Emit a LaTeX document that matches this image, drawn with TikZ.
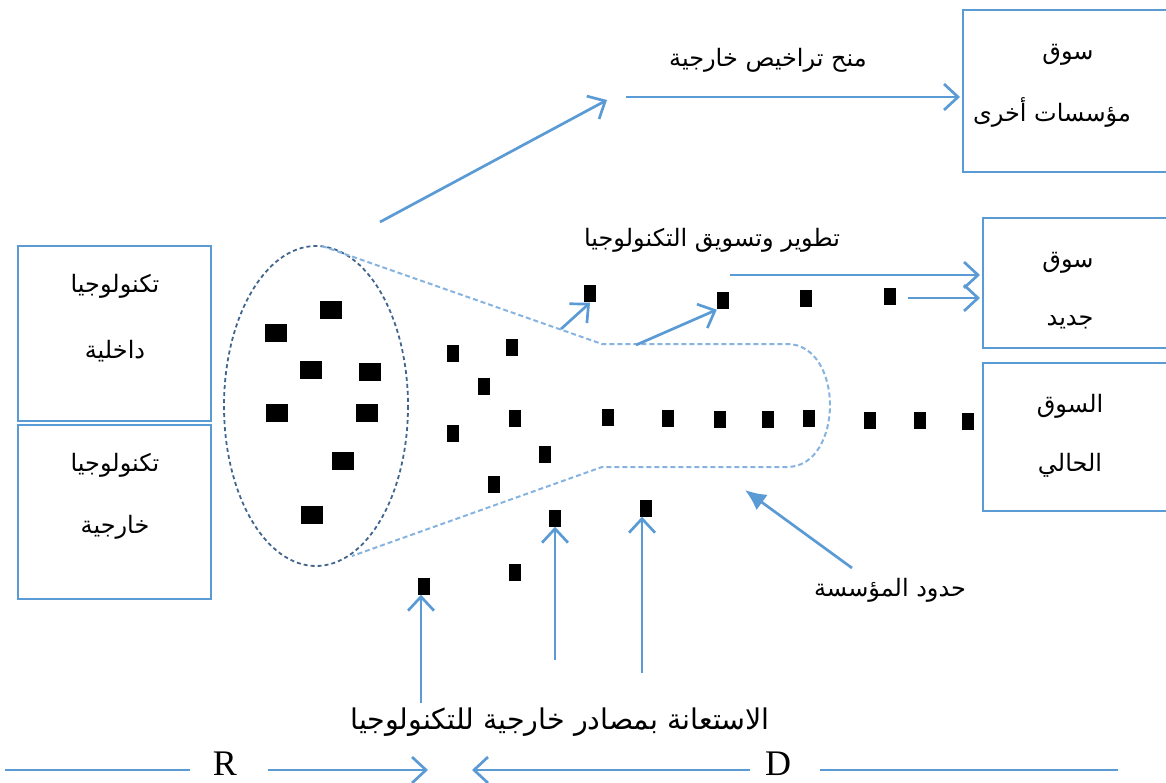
\documentclass[tikz,border=0pt]{standalone}
\usepackage{fontspec}
\usetikzlibrary{arrows.meta}
\TeXXeTstate=1
\newfontfamily\arabicfont[Script=Arabic]{DejaVu Sans}
\setmainfont{Liberation Serif}
\definecolor{lineblue}{HTML}{5B9BD5}
\definecolor{rimblue}{HTML}{41658C}
\definecolor{funnelblue}{HTML}{86B3E0}
\newcommand{\ar}[1]{{\arabicfont\beginR #1\endR}}
\tikzset{
  box/.style={draw=lineblue, line width=2pt},
  txt/.style={font=\arabicfont\fontsize{24}{28}\selectfont, inner sep=0pt},
  flow/.style={draw=lineblue, line width=2.7pt, -{Straight Barb[length=14pt,width=26pt,line width=2.7pt]}},
  plain/.style={draw=lineblue, line width=2.7pt},
  pointer/.style={draw=lineblue, line width=2.7pt, -{Latex[length=21pt,width=19pt]}},
  big/.style={fill=black, minimum width=22pt, minimum height=18pt, inner sep=0pt},
  small/.style={fill=black, minimum width=12pt, minimum height=17pt, inner sep=0pt},
  letter/.style={font=\fontsize{36}{40}\selectfont, inner sep=0pt}
}
\begin{document}
\begin{tikzpicture}[x=1pt,y=-1pt]
\useasboundingbox (0,0) rectangle (1166,783);
\clip (0,0) rectangle (1166,783);

% boxes
\draw[box] (18,246) rectangle (211,421);
\draw[box] (18,425) rectangle (211,599);
\draw[box] (963,10) rectangle (1180,172);
\draw[box] (983,218) rectangle (1180,348);
\draw[box] (983,363) rectangle (1180,511);

\node[txt] (intA) at (115,286) {\ar{تكنولوجيا}};
\node[txt] (intB) at (115,351) {\ar{داخلية}};
\node[txt] (extA) at (115,465) {\ar{تكنولوجيا}};
\node[txt] (extB) at (115,527) {\ar{خارجية}};

\node[txt] (othA) at (1068,55) {\ar{سوق}};
\node[txt] (othB) at (1052,112) {\ar{مؤسسات أخرى}};
\node[txt] (newA) at (1068,263) {\ar{سوق}};
\node[txt] (newB) at (1070,322) {\ar{جديد}};
\node[txt] (curA) at (1070,406) {\ar{السوق}};
\node[txt] (curB) at (1070,465) {\ar{الحالي}};

% labels
\node[txt] (lic) at (768,60) {\ar{منح تراخيص خارجية}};
\node[txt] (dev) at (712,240) {\ar{تطوير وتسويق التكنولوجيا}};
\node[txt] (lim) at (890,590) {\ar{حدود المؤسسة}};
\node[txt, font=\arabicfont\fontsize{28.5}{31}\selectfont] (out) at (560,722) {\ar{الاستعانة بمصادر خارجية للتكنولوجيا}};

% funnel
\draw[rimblue, line width=1.8pt, dash pattern=on 4pt off 3pt] (316,406) ellipse [x radius=92, y radius=160];
\draw[funnelblue, line width=2pt, dash pattern=on 5pt off 3pt]
  (322,246) -- (602,344) -- (787,344)
  to[out=0,in=90] (830,405) to[out=-90,in=0] (787,467)
  -- (602,467) -- (352,556);

% large squares
\node[big] (b1) at (331,310) {};
\node[big] (b2) at (276,333) {};
\node[big] (b3) at (311,370) {};
\node[big] (b4) at (370,372) {};
\node[big] (b5) at (277,413) {};
\node[big] (b6) at (367,413) {};
\node[big] (b7) at (343,461) {};
\node[big] (b8) at (312,515) {};

% small squares
\node[small] (s1) at (453,353) {};
\node[small] (s2) at (512,347) {};
\node[small] (s3) at (484,386) {};
\node[small] (s4) at (515,418) {};
\node[small] (s5) at (453,433) {};
\node[small] (s6) at (545,454) {};
\node[small] (s7) at (494,484) {};
\node[small] (s8) at (555,518) {};
\node[small] (s9) at (646,508) {};
\node[small] (s10) at (515,572) {};
\node[small] (s11) at (424,586) {};
\node[small] (u1) at (590,294) {};
\node[small] (u2) at (723,301) {};
\node[small] (u3) at (806,299) {};
\node[small] (u4) at (890,297) {};
\node[small] (m1) at (608,417) {};
\node[small] (m2) at (668,418) {};
\node[small] (m3) at (720,419) {};
\node[small] (m4) at (768,419) {};
\node[small] (m5) at (809,418) {};
\node[small] (m6) at (870,420) {};
\node[small] (m7) at (920,420) {};
\node[small] (m8) at (968,421) {};

% connector ends
\coordinate (licFrom) at (380,222);
\coordinate (licTip) at (607,100);
\coordinate (licStart) at (626,97);
\coordinate (othIn) at (960,97);
\coordinate (devStart) at (730,275);
\coordinate (newIn1) at (980,275);
\coordinate (newStart2) at (908,298);
\coordinate (newIn2) at (980,298);
\coordinate (upA) at (561,329);
\coordinate (upB) at (636,345);
\coordinate (limFrom) at (852,568);
\coordinate (limTip) at (745,490);
\coordinate (inA) at (421,703);
\coordinate (inB) at (555,660);
\coordinate (inC) at (642,673);
\coordinate (rL) at (5,770);
\coordinate (rR) at (190,770);
\coordinate (rArrS) at (268,770);
\coordinate (rArrE) at (428,770);
\coordinate (dArrS) at (750,770);
\coordinate (dArrE) at (472,770);
\coordinate (dL) at (820,770);
\coordinate (dR) at (1118,770);

% arrows
\draw[flow] (licFrom) -- (licTip);
\draw[flow] (licStart) -- (othIn);
\draw[flow] (devStart) -- (newIn1);
\draw[flow] (newStart2) -- (newIn2);
\draw[flow] (upA) -- (u1.south);
\draw[flow] (upB) -- (u2.south west);
\draw[pointer] (limFrom) -- (limTip);
\draw[flow] (inA) -- (inA |- s11.south);
\draw[flow] (inB) -- (inB |- s8.south);
\draw[flow] (inC) -- (inC |- s9.south);

% R and D scale
\draw[plain] (rL) -- (rR);
\node[letter] (R) at (225,764) {R};
\draw[flow] (rArrS) -- (rArrE);
\draw[flow] (dArrS) -- (dArrE);
\node[letter] (D) at (778,764) {D};
\draw[plain] (dL) -- (dR);
\end{tikzpicture}
\end{document}
